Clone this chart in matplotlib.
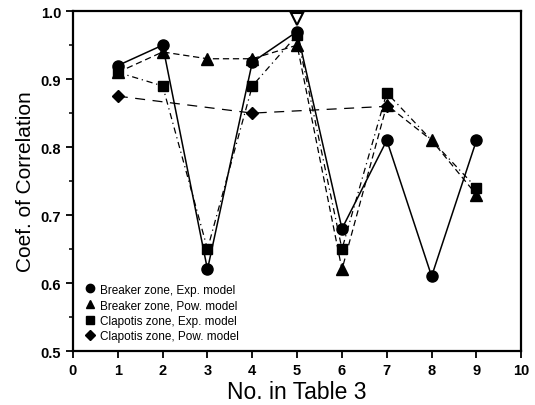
import matplotlib
matplotlib.use("Agg")
import matplotlib.pyplot as plt
from matplotlib.ticker import MultipleLocator, FormatStrFormatter
from matplotlib.lines import Line2D

plt.rcParams['font.family'] = ['Liberation Sans', 'DejaVu Sans']

# Data
be_x = [1, 2, 3, 4, 5, 6, 7, 8, 9]
be_y = [0.92, 0.95, 0.62, 0.925, 0.97, 0.68, 0.81, 0.61, 0.81]

bp_x = [1, 2, 3, 4, 5, 6, 7, 8, 9]
bp_y = [0.91, 0.94, 0.93, 0.93, 0.95, 0.62, 0.862, 0.81, 0.73]

ce_x = [1, 2, 3, 4, 5, 6, 7, 9]
ce_y = [0.91, 0.89, 0.65, 0.89, 0.965, 0.65, 0.88, 0.74]

cp_x = [1, 4, 7]
cp_y = [0.875, 0.85, 0.86]

open_x = [5]
open_y = [0.988]

labels = ["Breaker zone, Exp. model", "Breaker zone, Pow. model",
          "Clapotis zone, Exp. model", "Clapotis zone, Pow. model"]

fig = plt.figure(figsize=(5.35, 4.06), dpi=100)
ax = fig.add_axes([0.1364, 0.133, 0.838, 0.837])

ax.plot(cp_x, cp_y, color='black', lw=0.9, dashes=(8, 6), marker='D', ms=6.5,
        label=labels[3], zorder=2)
ax.plot(ce_x, ce_y, color='black', lw=0.9, dashes=(5, 3, 1, 3), marker='s', ms=7.5,
        label=labels[2], zorder=3)
ax.plot(bp_x, bp_y, color='black', lw=0.9, dashes=(5, 3), marker='^', ms=8,
        label=labels[1], zorder=4)
ax.plot(be_x, be_y, color='black', lw=1.1, linestyle='-', marker='o', ms=8,
        label=labels[0], zorder=5)
ax.plot(open_x, open_y, linestyle='none', marker='v', ms=8.5, mfc='white',
        mec='black', mew=1.5, zorder=6, clip_on=False)

ax.set_xlim(0, 10)
ax.set_ylim(0.5, 1.0)
ax.xaxis.set_major_locator(MultipleLocator(1))
ax.yaxis.set_major_locator(MultipleLocator(0.1))
ax.yaxis.set_minor_locator(MultipleLocator(0.05))
ax.yaxis.set_major_formatter(FormatStrFormatter('%.1f'))
ax.tick_params(axis='both', which='major', direction='out', length=5, width=1.3,
               labelsize=10.5)
ax.tick_params(axis='y', which='minor', direction='out', length=3, width=1.1)
for s in ax.spines.values():
    s.set_linewidth(1.6)

for t in ax.get_xticklabels() + ax.get_yticklabels():
    t.set_fontweight('bold')

ax.set_xlabel("No. in Table 3", fontsize=16.5, labelpad=2)
ax.set_ylabel("Coef. of Correlation", fontsize=15, labelpad=4)

leg_handles = [
    Line2D([], [], color='black', marker='o', ls='none', ms=6),
    Line2D([], [], color='black', marker='^', ls='none', ms=6),
    Line2D([], [], color='black', marker='s', ls='none', ms=6),
    Line2D([], [], color='black', marker='D', ls='none', ms=5),
]
ax.legend(leg_handles, labels, loc='lower left', bbox_to_anchor=(0.01, 0.005),
          frameon=False, fontsize=8.5, handletextpad=0.3, labelspacing=0.3,
          handlelength=1.0, borderaxespad=0.2)

fig.savefig("out.png", dpi=100)
